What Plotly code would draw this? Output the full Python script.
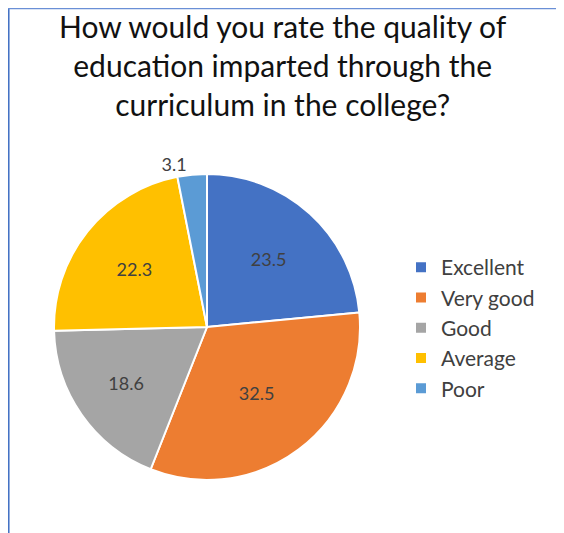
import plotly.graph_objects as go

categories = ["Excellent", "Very good", "Good", "Average", "Poor"]
values = [23.5, 32.5, 18.6, 22.3, 3.1]
colors = ["#4472C4", "#ED7D31", "#A5A5A5", "#FFC000", "#5B9BD5"]
title_text = "How would you rate the quality of<br>education imparted through the<br>curriculum in the college?"

W, H = 564, 533
FONT = "Lato, 'Open Sans', sans-serif"

fig = go.Figure(go.Pie(
    labels=categories,
    values=values,
    sort=False,
    direction="clockwise",
    rotation=0,
    marker=dict(colors=colors, line=dict(color="white", width=2)),
    texttemplate="%{value}",
    textposition=["inside", "inside", "inside", "inside", "outside"],
    insidetextorientation="horizontal",
    textfont=dict(family=FONT, size=18, color="#404040"),
    outsidetextfont=dict(family=FONT, size=18, color="#404040"),
    domain=dict(x=[46 / W, 352 / W], y=[1 - 472 / H, 1 - 166 / H]),
    hoverinfo="label+value",
))

fig.update_layout(
    width=W, height=H,
    margin=dict(l=0, r=0, t=0, b=0),
    paper_bgcolor="white",
    plot_bgcolor="white",
    annotations=[dict(text=title_text, xref="paper", yref="paper", x=275 / W, y=1,
                      xanchor="center", yanchor="top", yshift=2, showarrow=False,
                      align="center",
                      font=dict(family=FONT, size=30, color="#111111"))],
    legend=dict(x=393 / W, y=1 - 320 / H, xanchor="left", yanchor="middle",
                font=dict(family=FONT, size=21, color="#404040"),
                traceorder="normal", itemwidth=30),
    showlegend=True,
    shapes=[
        dict(type="line", xref="paper", yref="paper", x0=0.001, x1=0.001, y0=0, y1=1,
             line=dict(color="#4472C4", width=2)),
        dict(type="line", xref="paper", yref="paper", x0=0, x1=1, y0=0.999, y1=0.999,
             line=dict(color="#6A8FD6", width=1.5)),
        dict(type="line", xref="paper", yref="paper", x0=561 / W, x1=561 / W, y0=0, y1=1,
             line=dict(color="#B4C7E7", width=1.5)),
    ],
)

fig.write_html("out.html")
